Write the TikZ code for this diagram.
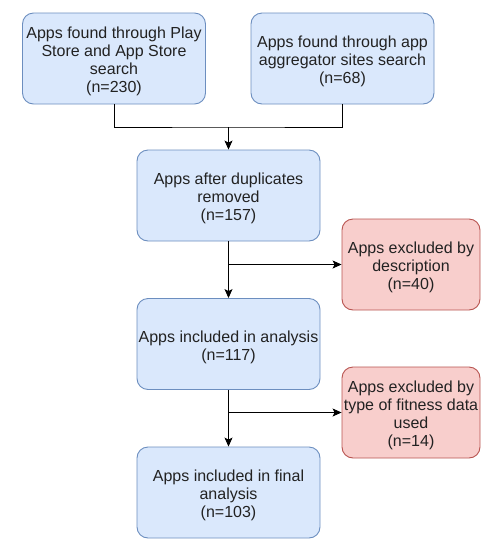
\documentclass[tikz,border=0pt]{standalone}
\usepackage{fontspec}
\setmainfont{Liberation Sans}
\usetikzlibrary{arrows.meta}
\definecolor{bfill}{HTML}{DAE8FC}
\definecolor{bdraw}{HTML}{6C8EBF}
\definecolor{rfill}{HTML}{F8CECC}
\definecolor{rdraw}{HTML}{B85450}
\definecolor{txt}{HTML}{222222}
\begin{document}
\begin{tikzpicture}[x=1pt,y=-1pt,
  boxtext/.style={align=center,inner sep=0pt,text=txt,yshift=-3pt,
    font=\fontsize{16pt}{18pt}\selectfont},
  box/.style={draw=bdraw,fill=bfill,rounded corners=11pt,line width=0.9pt,
    minimum width=183pt,minimum height=91pt,inner sep=0pt,
    label={[boxtext]center:#1}},
  rbox/.style={box={#1},draw=rdraw,fill=rfill,minimum width=138pt},
  conn/.style={line width=0.9pt,black},
  arr/.style={conn,-{Stealth[length=9pt,width=8pt,inset=2pt]}}]
\useasboundingbox (0,0) rectangle (494,550);
\node[box={Apps found through Play\\Store and App Store\\search\\(n=230)}] (b1) at (114,58.5) {};
\node[box={Apps found through app\\aggregator sites search\\(n=68)}] (b2) at (342.5,58.5) {};
\node[box={Apps after duplicates\\removed\\(n=157)}] (b3) at (228.5,195.5) {};
\node[rbox={Apps excluded by\\description\\(n=40)}] (r1) at (411,264.5) {};
\node[box={Apps included in analysis\\(n=117)}] (b4) at (228.5,344) {};
\node[rbox={Apps excluded by\\type of fitness data\\used\\(n=14)}] (r2) at (411,412.5) {};
\node[box={Apps included in final\\analysis\\(n=103)}] (b5) at (228.5,492.5) {};
\coordinate (j) at (228.5,127);
\coordinate (k1) at (228.5,264.5);
\coordinate (k2) at (228.5,412.5);
\draw[conn] (b1.south) |- (j) -| (b2.south);
\draw[arr] (j) -- (b3.north);
\draw[arr] (b3.south) -- (b4.north);
\draw[arr] (k1) -- (r1.west);
\draw[arr] (b4.south) -- (b5.north);
\draw[arr] (k2) -- (r2.west);
\end{tikzpicture}
\end{document}
